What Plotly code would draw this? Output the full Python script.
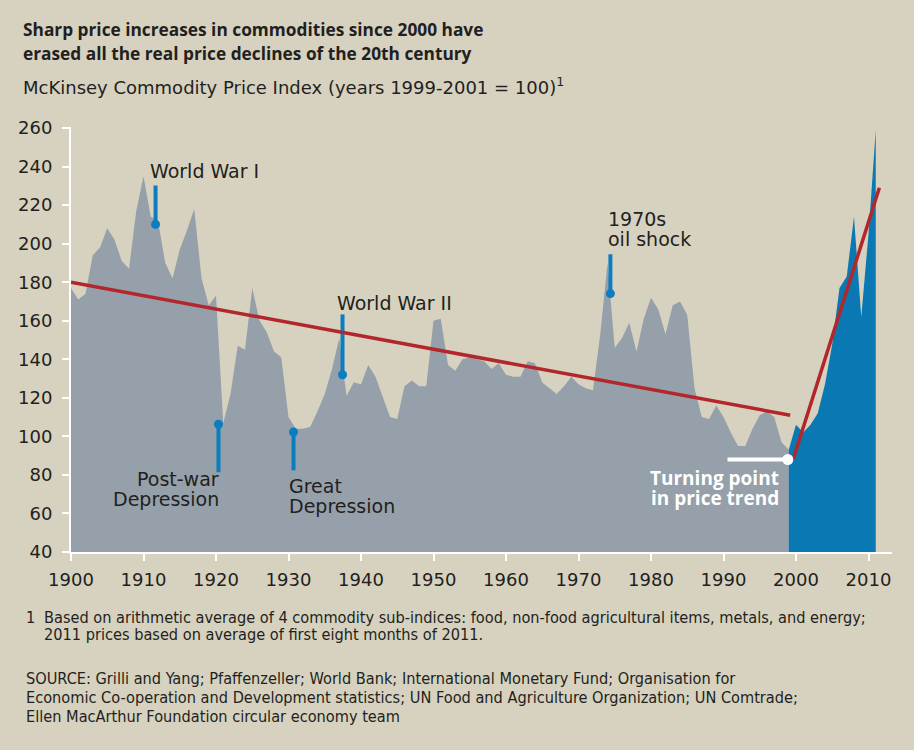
import plotly.graph_objects as go

# ---------------- data ----------------
years = list(range(1900, 2012))
index_values = [
    177, 171, 174, 194, 198, 208, 202, 191, 187, 217,   # 1900-1909
    235, 214, 212, 190, 182, 197, 207, 218, 182, 168,   # 1910-1919
    173, 107, 122, 147, 145, 177, 160, 154, 144, 141,   # 1920-1929
    110, 104, 104, 105, 113, 122, 135, 151, 121, 128,   # 1930-1939
    127, 137, 131, 121, 110, 109, 126, 129, 126, 126,   # 1940-1949
    160, 161, 137, 134, 140, 141, 140, 139, 135, 138,   # 1950-1959
    132, 131, 131, 139, 138, 128, 125, 122, 126, 131,   # 1960-1969
    127, 125, 124, 153, 190, 146, 151, 159, 144, 161,   # 1970-1979
    172, 166, 153, 168, 170, 163, 125, 110, 109, 116,   # 1980-1989
    110, 102, 95, 95, 104, 111, 113, 110, 97, 93,       # 1990-1999
    106, 102, 106, 112, 127, 148, 177, 183, 214, 162,   # 2000-2009
    205, 259,                                           # 2010-2011
]
turn_year = 1999

trend_old_x = [1900, 1999.2]
trend_old_y = [180, 111]
trend_new_x = [1999.6, 2011.5]
trend_new_y = [88, 229]

x_tick_vals = list(range(1900, 2011, 10))
y_tick_vals = list(range(40, 261, 20))

# events: (label, stick x, stick end, dot value)
events = [
    ("World War I", 1911.66, 230.2, 210.0),
    ("Post-war Depression", 1920.34, 81.4, 106.3),
    ("Great Depression", 1930.69, 82.4, 102.3),
    ("World War II", 1937.45, 163.3, 132.0),
    ("1970s oil shock", 1974.4, 194.5, 174.1),
]
turning_line_x = [1990.55, 1998.87]
turning_value = 88

# ---------------- style ----------------
BG = "#D6D2BF"
GREY = "#96A0AA"
BLUE = "#0A79B3"
RED = "#B3262B"
STICK = "#0B7DC0"
TXT = "#231F20"
SANS = "DejaVu Sans, Open Sans, sans-serif"
BOLD = "Open Sans, Lato, sans-serif"
COND = "Liberation Sans Narrow, DejaVu Sans Condensed, sans-serif"

W, H = 914, 750
ML, MR, MT, MB = 71, 22, 127, 198
PW, PH = W - ML - MR, H - MT - MB


def px(x):
    return (x - ML) / PW


def py(y):
    return (H - MB - y) / PH


i_turn = years.index(turn_year)
fig = go.Figure()
fig.add_trace(go.Scatter(
    x=years[:i_turn + 1], y=index_values[:i_turn + 1], mode="lines",
    line=dict(width=0, color=GREY), fill="tozeroy", fillcolor=GREY,
    hoverinfo="skip", showlegend=False))
fig.add_trace(go.Scatter(
    x=years[i_turn:], y=index_values[i_turn:], mode="lines",
    line=dict(width=0, color=BLUE), fill="tozeroy", fillcolor=BLUE,
    hoverinfo="skip", showlegend=False))

# callout sticks
for label, x, end, dot in events:
    fig.add_trace(go.Scatter(x=[x, x], y=[end, dot], mode="lines",
                             line=dict(color=STICK, width=4),
                             hoverinfo="skip", showlegend=False))
    fig.add_trace(go.Scatter(x=[x], y=[dot], mode="markers",
                             marker=dict(color=STICK, size=9),
                             hoverinfo="skip", showlegend=False))

# trend lines
fig.add_trace(go.Scatter(x=trend_old_x, y=trend_old_y, mode="lines",
                         line=dict(color=RED, width=3.5),
                         hoverinfo="skip", showlegend=False))
fig.add_trace(go.Scatter(x=trend_new_x, y=trend_new_y, mode="lines",
                         line=dict(color=RED, width=3.5),
                         hoverinfo="skip", showlegend=False))

# turning point marker
fig.add_trace(go.Scatter(x=turning_line_x, y=[turning_value, turning_value],
                         mode="lines", line=dict(color="white", width=4),
                         hoverinfo="skip", showlegend=False))
fig.add_trace(go.Scatter(x=[turning_line_x[1]], y=[turning_value], mode="markers",
                         marker=dict(color="white", size=11),
                         hoverinfo="skip", showlegend=False))

ann = []
def text(x, y, s, size, font=SANS, color=TXT, xanchor="left"):
    shift = -2 if xanchor == "left" else 2
    ann.append(dict(x=px(x + shift), y=py(y), xref="paper", yref="paper", text=s,
                    showarrow=False, xanchor=xanchor, yanchor="middle",
                    font=dict(family=font, size=size, color=color)))

# titles
text(23, 29, "<b>Sharp price increases in commodities since 2000 have</b>", 17.3, BOLD)
text(23, 53, "<b>erased all the real price declines of the 20th century</b>", 17.3, BOLD)
text(23, 86, "McKinsey Commodity Price Index (years 1999-2001 = 100)<sup>1</sup>", 18)

# event labels
EV = 19
text(150, 171, "World War I", EV)
text(219, 479, "Post-war", EV, xanchor="right")
text(219, 499, "Depression", EV, xanchor="right")
text(289, 486, "Great", EV)
text(289, 506, "Depression", EV)
text(337, 303, "World War II", EV)
text(608, 219, "1970s", EV)
text(608, 239, "oil shock", EV)
text(779, 478, "<b>Turning point</b>", 19, BOLD, color="white", xanchor="right")
text(779, 498, "<b>in price trend</b>", 19, BOLD, color="white", xanchor="right")

# footnotes
FN = 16.2
text(26, 617, "1", FN, COND)
text(44, 617, "Based on arithmetic average of 4 commodity sub-indices: food, non-food agricultural items, metals, and energy;", FN, COND)
text(44, 634, "2011 prices based on average of first eight months of 2011.", FN, COND)
text(26, 678, "SOURCE: Grilli and Yang; Pfaffenzeller; World Bank; International Monetary Fund; Organisation for", FN, COND)
text(26, 697, "Economic Co-operation and Development statistics; UN Food and Agriculture Organization; UN Comtrade;", FN, COND)
text(26, 716, "Ellen MacArthur Foundation circular economy team", FN, COND)

fig.update_layout(
    width=W, height=H,
    margin=dict(l=ML, r=MR, t=MT, b=MB, pad=0, autoexpand=False),
    paper_bgcolor=BG, plot_bgcolor=BG,
    showlegend=False,
    annotations=ann,
    xaxis=dict(range=[1900, 1900 + PW / 7.25], tickvals=x_tick_vals, automargin=False,
               showgrid=False, zeroline=False, showline=True, linecolor="white",
               linewidth=2, ticks="outside", tickcolor="white", ticklen=7, tickwidth=2,
               tickfont=dict(family=SANS, size=18, color=TXT), ticklabelstandoff=3),
    yaxis=dict(range=[40, 40 + PH / 1.927], tickvals=y_tick_vals, automargin=False,
               showgrid=False, zeroline=False, showline=True, linecolor="white",
               linewidth=2, ticks="outside", tickcolor="white", ticklen=7, tickwidth=2,
               tickfont=dict(family=SANS, size=18, color=TXT), ticklabelstandoff=6),
)

fig.write_html("out.html", config={"displayModeBar": False},
               post_script="document.body.style.margin='0';")
